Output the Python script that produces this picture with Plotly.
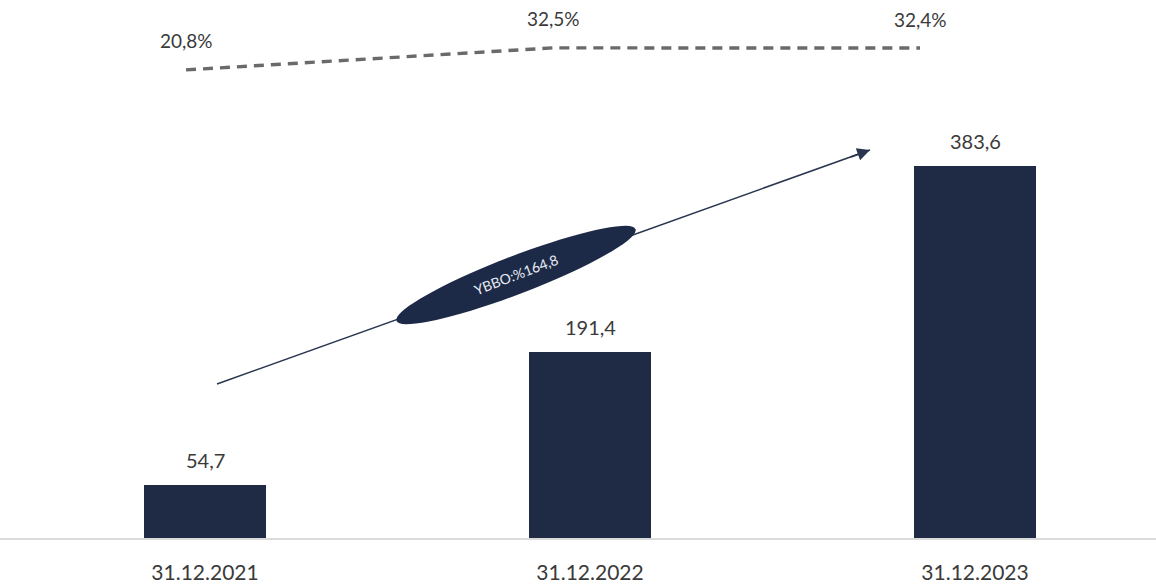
import math
import plotly.graph_objects as go

# Data
dates = ["31.12.2021", "31.12.2022", "31.12.2023"]
values = [54.7, 191.4, 383.6]
margin_pct = [20.8, 32.5, 32.4]
growth_label = "YBBO:%164,8"

W, H = 1156, 587
BOTTOM = 49
PLOT_H = H - BOTTOM

NAVY = "#1f2b45"
TEXT = "#3a3a3a"
FONT = "Lato, Open Sans, sans-serif"


def fmt(v, suffix=""):
    return f"{v:.1f}".replace(".", ",") + suffix


fig = go.Figure()

fig.add_trace(go.Bar(
    x=list(range(len(dates))), y=values, width=0.315,
    marker=dict(color=NAVY, line=dict(width=0)),
    xaxis="x", yaxis="y", showlegend=False, hoverinfo="skip",
))

fig.add_trace(go.Scatter(
    x=list(range(len(dates))), y=margin_pct, mode="lines",
    line=dict(color="#6a6a6a", width=3.4, dash="10px,7px"),
    xaxis="x2", yaxis="y2", showlegend=False, hoverinfo="skip",
))

annotations = []
for i, v in enumerate(values):
    annotations.append(dict(
        x=i, y=v, xref="x", yref="y", text=fmt(v), showarrow=False,
        yshift=25, font=dict(size=20, color=TEXT, family=FONT),
    ))
for i, p in enumerate(margin_pct):
    annotations.append(dict(
        x=i, y=p, xref="x2", yref="y2", text=fmt(p, "%"), showarrow=False,
        yshift=29, font=dict(size=19, color=TEXT, family=FONT),
    ))


def px_to_paper(px, py):
    return px / W, (PLOT_H - py) / PLOT_H


# Growth arrow
tail = (217, 384)
head = (870, 150)
tx, ty = px_to_paper(*tail)
hx, hy = px_to_paper(*head)
shapes = [dict(
    type="line", xref="paper", yref="paper", x0=tx, y0=ty, x1=hx, y1=hy,
    line=dict(color="#2a3550", width=1.6), layer="above",
)]
ang = math.atan2(tail[1] - head[1], head[0] - tail[0])
annotations.append(dict(
    x=hx, y=hy, xref="paper", yref="paper", showarrow=True,
    ax=-22 * math.cos(ang), ay=22 * math.sin(ang), axref="pixel", ayref="pixel",
    arrowhead=2, arrowsize=1.6, arrowwidth=1.6, arrowcolor="#2a3550", text="",
))

# Ellipse badge with growth rate
cx, cy = 516, 275
a, b = 128, 19
theta = math.radians(21)
pts = []
for k in range(73):
    t = 2 * math.pi * k / 72
    ex = a * math.cos(t)
    ey = b * math.sin(t)
    px = cx + ex * math.cos(theta) - ey * math.sin(theta)
    py = cy - (ex * math.sin(theta) + ey * math.cos(theta))
    X, Y = px_to_paper(px, py)
    pts.append(f"{X:.5f},{Y:.5f}")
path = "M " + " L ".join(pts) + " Z"
shapes.append(dict(
    type="path", xref="paper", yref="paper", path=path,
    fillcolor="#1d2a47", line=dict(width=0), layer="above",
))
ecx, ecy = px_to_paper(cx, cy)
annotations.append(dict(
    x=ecx, y=ecy, xref="paper", yref="paper", text=growth_label,
    showarrow=False, textangle=-21,
    font=dict(size=14, color="#e8ecf4", family=FONT),
))

x_lo = -205 / 385
fig.update_layout(
    width=W, height=H,
    margin=dict(l=0, r=0, t=0, b=BOTTOM),
    paper_bgcolor="white", plot_bgcolor="white",
    xaxis=dict(
        range=[x_lo, x_lo + W / 385], tickmode="array",
        tickvals=list(range(len(dates))), ticktext=dates,
        ticks="outside", ticklen=15, tickcolor="rgba(0,0,0,0)",
        tickfont=dict(size=21, color=TEXT, family=FONT),
        showline=True, linecolor="#dadada", linewidth=1.5,
        showgrid=False, zeroline=False, fixedrange=True,
    ),
    xaxis2=dict(
        range=[-186 / 367, -186 / 367 + W / 367], overlaying="x",
        visible=False, fixedrange=True,
    ),
    yaxis=dict(range=[0, PLOT_H / 0.97], visible=False, fixedrange=True),
    yaxis2=dict(range=[-228.2, -228.2 + PLOT_H / 1.88], overlaying="y",
                visible=False, fixedrange=True),
    annotations=annotations,
    shapes=shapes,
    bargap=0,
)

fig.write_html("out.html")
